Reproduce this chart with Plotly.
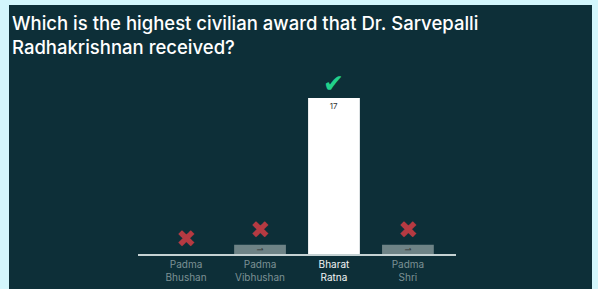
import plotly.graph_objects as go

categories = ["Padma<br>Bhushan", "Padma<br>Vibhushan", "Bharat<br>Ratna", "Padma<br>Shri"]
votes = [0, 1, 17, 1]
correct = [False, False, True, False]
title_text = "Which is the highest civilian award that Dr. Sarvepalli<br>Radhakrishnan received?"

W, H = 598, 289
L, R, T, B = 138, 142, 60, 35
pw, ph = W - L - R, H - T - B

def px_x(p):
    return (p - L) / pw

def px_y(p):
    return (H - B - p) / ph

bar_colors = ["#ffffff" if c else "#6e8386" for c in correct]
tick_text = [
    f"<span style='color:#f2f5f5'>{c}</span>" if ok else c
    for c, ok in zip(categories, correct)
]

fig = go.Figure()
fig.add_trace(go.Bar(
    x=list(range(len(categories))),
    y=votes,
    marker=dict(color=bar_colors, line=dict(width=0)),
    width=0.7,
    text=[str(v) if v > 0 else "" for v in votes],
    textposition="inside",
    insidetextanchor="end",
    textfont=dict(size=8, color="#333333", family="Inter"),
    hoverinfo="skip",
))

ymax = 17 * ph / 156

annotations = []
for i, (v, ok) in enumerate(zip(votes, correct)):
    annotations.append(dict(
        x=i, y=v, xref="x", yref="y",
        text="✔" if ok else "✖",
        showarrow=False,
        yanchor="middle",
        yshift=15,
        font=dict(size=25 if ok else 24, color="#22d18b" if ok else "#b53a42",
                  family="DejaVu Sans"),
    ))

annotations.append(dict(
    x=px_x(10), y=px_y(10), xref="paper", yref="paper",
    xanchor="left", yanchor="top", align="left",
    text=title_text, showarrow=False,
    font=dict(size=18.5, color="#ffffff", family="Inter", weight=500),
))

fig.update_layout(
    width=W, height=H,
    margin=dict(l=L, r=R, t=T, b=B),
    paper_bgcolor="#d3f6fc",
    plot_bgcolor="rgba(0,0,0,0)",
    showlegend=False,
    bargap=0.3,
    annotations=annotations,
    shapes=[dict(
        type="rect", xref="paper", yref="paper", layer="below",
        x0=px_x(9), x1=px_x(592), y0=px_y(300), y1=px_y(5),
        fillcolor="#0d2f38", line=dict(width=0),
    )],
    xaxis=dict(
        range=[-0.65, 3.65],
        tickvals=list(range(len(categories))),
        ticktext=tick_text,
        tickfont=dict(size=10, color="#7c9195", family="Inter"),
        showline=True, linecolor="#c5d2d3", linewidth=2,
        showgrid=False, zeroline=False, ticks="", automargin=False,
    ),
    yaxis=dict(
        range=[0, ymax], visible=False, showgrid=False, zeroline=False,
        automargin=False,
    ),
)

fig.write_html("out.html", config={"displayModeBar": False},
               post_script="document.body.style.margin='0';")
